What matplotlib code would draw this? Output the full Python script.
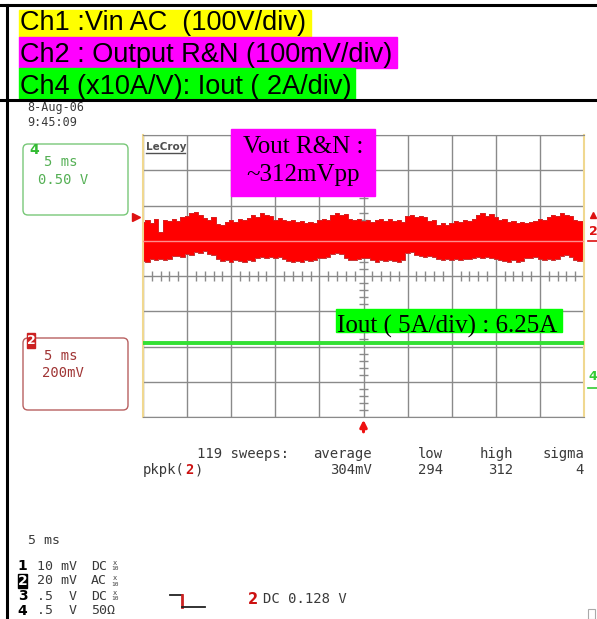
import numpy as np
import matplotlib.pyplot as plt
from matplotlib.patches import Rectangle, FancyBboxPatch

# --- trace data, screen divisions (ch2 at 200mV/div on screen), time in ms (5 ms/div)
t_ms = np.arange(0, 50.01, 0.5)
ch2_upper = [1.52, 1.58, 1.50, 1.63, 1.25, 1.60, 1.55, 1.62, 1.57, 1.66,
             1.70, 1.78, 1.82, 1.74, 1.64, 1.60, 1.66, 1.48, 1.45, 1.52,
             1.58, 1.54, 1.62, 1.58, 1.64, 1.72, 1.68, 1.80, 1.74, 1.70,
             1.60, 1.64, 1.58, 1.55, 1.58, 1.52, 1.56, 1.50, 1.53, 1.49,
             1.60, 1.63, 1.58, 1.74, 1.79, 1.72, 1.76, 1.62, 1.58, 1.63,
             1.55, 1.58, 1.54, 1.60, 1.62, 1.57, 1.63, 1.55, 1.58, 1.54,
             1.70, 1.73, 1.68, 1.71, 1.66, 1.55, 1.58, 1.46, 1.49, 1.45,
             1.50, 1.57, 1.54, 1.58, 1.55, 1.62, 1.72, 1.79, 1.70, 1.76,
             1.66, 1.60, 1.63, 1.52, 1.55, 1.50, 1.54, 1.51, 1.53, 1.56,
             1.62, 1.59, 1.68, 1.72, 1.69, 1.80, 1.72, 1.70, 1.58, 1.55,
             1.57]
ch2_lower = [0.43, 0.41, 0.47, 0.45, 0.48, 0.46, 0.49, 0.56, 0.58, 0.55,
             0.62, 0.60, 0.68, 0.64, 0.70, 0.63, 0.60, 0.47, 0.42, 0.45,
             0.40, 0.46, 0.43, 0.41, 0.45, 0.42, 0.50, 0.54, 0.51, 0.53,
             0.50, 0.54, 0.49, 0.42, 0.39, 0.43, 0.40, 0.44, 0.42, 0.45,
             0.52, 0.50, 0.55, 0.63, 0.66, 0.61, 0.52, 0.46, 0.44, 0.48,
             0.52, 0.50, 0.44, 0.41, 0.44, 0.42, 0.45, 0.43, 0.41, 0.44,
             0.64, 0.67, 0.60, 0.57, 0.55, 0.58, 0.54, 0.47, 0.45, 0.49,
             0.46, 0.48, 0.45, 0.49, 0.47, 0.50, 0.53, 0.51, 0.54, 0.50,
             0.47, 0.46, 0.43, 0.41, 0.44, 0.40, 0.43, 0.52, 0.50, 0.54,
             0.47, 0.45, 0.48, 0.46, 0.49, 0.57, 0.59, 0.55, 0.44, 0.42,
             0.45]
ch4_level = -1.9  # iout trace, divisions

header_lines = ["Ch1 :Vin AC  (100V/div)", "Ch2 : Output R&N (100mV/div)",
                "Ch4 (x10A/V): Iout ( 2A/div)"]
header_colors = ["#ffff00", "#ff00ff", "#00ff00"]

meas_heads = ["average", "low", "high", "sigma"]
meas_vals = ["304mV", "294", "312", "4"]

ch_rows = [("1", "10 mV", "DC"), ("2", "20 mV", "AC"), ("3", ".5  V", "DC"), ("4", ".5  V", "50\u03a9")]

mono = "DejaVu Sans Mono"
scope_gray = "#3a3a3a"

fig = plt.figure(figsize=(5.97, 6.19), dpi=100)

# scope graticule
ax = fig.add_axes([143 / 597, 1 - 417 / 619, 441 / 597, 282 / 619])
ax.set_xlim(0, 50)
ax.set_ylim(-4, 4)
ax.set_xticks(np.arange(0, 51, 5))
ax.set_yticks(np.arange(-4, 5, 1))
ax.tick_params(length=0, labelbottom=False, labelleft=False)
ax.grid(True, color="#8a8a8a", lw=1.0, zorder=0)
ax.set_axisbelow(True)
for s in ["top", "bottom"]:
    ax.spines[s].set_color("#8a8a8a")
for s in ["left", "right"]:
    ax.spines[s].set_color("#f0d890")
    ax.spines[s].set_linewidth(1.5)

# minor ticks on the centre cross
xt = np.arange(1, 50, 1)
xt = xt[xt % 5 != 0]
ax.vlines(xt, -0.13, 0.13, color="#8a8a8a", lw=1, zorder=1)
yt = np.arange(-3.8, 4, 0.2)
yt = yt[np.abs(yt - np.round(yt)) > 0.05]
ax.hlines(yt, 24.45, 25.55, color="#8a8a8a", lw=1, zorder=1)

ax.fill_between(t_ms, ch2_lower, ch2_upper, step="mid", color="#ff0000", lw=0, zorder=2)
ax.step(t_ms, ch2_upper, where="mid", color="#d82020", lw=0.7, zorder=2)
ax.step(t_ms, ch2_lower, where="mid", color="#c83030", lw=0.7, zorder=2)
ax.axhline(1, color="#ff8c8c", lw=1, zorder=3)

ax.plot([0, 50], [ch4_level, ch4_level], color="#33e033", lw=2.8, zorder=3)

# markers round the graticule
ax.plot([-0.75], [1.68], marker=">", color="#dd1111", ms=6, clip_on=False)
ax.text(50.55, 1.25, "2", color="#dd1111", fontsize=9, fontweight="bold",
        ha="left", va="center", clip_on=False)
ax.plot([51.0], [1.72], marker="^", color="#dd1111", ms=4, clip_on=False)
ax.plot([50.5, 51.5], [0.98, 0.98], color="#dd1111", lw=1.2, clip_on=False)
ax.text(50.55, -2.85, "4", color="#33cc33", fontsize=9, fontweight="bold",
        ha="left", va="center", clip_on=False)
ax.plot([50.5, 51.5], [-3.17, -3.17], color="#33cc33", lw=1.2, clip_on=False)
ax.annotate("", xy=(25, -4.0), xytext=(25, -4.5),
            arrowprops=dict(arrowstyle="-|>", color="#ee1111", lw=2.2, mutation_scale=10),
            annotation_clip=False)

# overlay in pixel coordinates for all the labels
ov = fig.add_axes([0, 0, 1, 1])
ov.set_xlim(0, 597)
ov.set_ylim(619, 0)
ov.axis("off")
ov.patch.set_alpha(0)
ov.set_zorder(3)

# header table
widths = [292, 378, 336]
tops = [10, 37, 68]
heights = [27, 31, 32]
baselines = [30, 62.5, 93.5]
for txt, col, w, tp, h, bl in zip(header_lines, header_colors, widths, tops, heights, baselines):
    ov.add_patch(Rectangle((19, tp), w, h, color=col, zorder=2))
    ov.text(20, bl, txt, family="Liberation Sans", fontsize=19.5, va="baseline", zorder=3)
ov.plot([0, 597], [5, 5], color="black", lw=2.2, zorder=4)
ov.plot([0, 597], [100, 100], color="black", lw=2.2, zorder=4)
ov.plot([6.5, 6.5], [5, 619], color="black", lw=2.2, zorder=4)

ov.text(27, 107, "8-Aug-06", family=mono, fontsize=8.5, color=scope_gray, va="center")
ov.text(27, 122, "9:45:09", family=mono, fontsize=8.5, color=scope_gray, va="center")

# channel boxes
ov.add_patch(FancyBboxPatch((23, 144), 105, 71, boxstyle="round,pad=0,rounding_size=5",
                            fc="none", ec="#78c878", lw=1))
ov.text(29, 150, "4", color="#33bb33", fontsize=10, fontweight="bold", va="center")
ov.text(61, 162, "5 ms", family=mono, fontsize=10, color="#55b055", ha="center", va="center")
ov.text(63, 180, "0.50 V", family=mono, fontsize=10, color="#55b055", ha="center", va="center")

ov.add_patch(FancyBboxPatch((23, 338), 105, 72, boxstyle="round,pad=0,rounding_size=5",
                            fc="none", ec="#b86060", lw=1))
ov.add_patch(Rectangle((27, 333), 8, 15, color="#cc2222"))
ov.text(31, 341, "2", color="white", fontsize=9, fontweight="bold", ha="center", va="center")
ov.text(61, 356, "5 ms", family=mono, fontsize=10, color="#a03535", ha="center", va="center")
ov.text(63, 373, "200mV", family=mono, fontsize=10, color="#a03535", ha="center", va="center")

# LeCroy logo
ov.text(146, 147, "LeCroy", fontsize=7.5, fontweight="bold", color="#505050", va="center",
        family="DejaVu Sans Condensed")
ov.plot([146, 185], [153, 153], color="#505050", lw=1)

# annotation boxes
ov.add_patch(Rectangle((231, 129), 144, 67, color="#ff00ff"))
ov.text(303, 153, "Vout R&N :", family="Liberation Serif", fontsize=18, ha="center", va="baseline")
ov.text(303, 181, "~312mVpp", family="Liberation Serif", fontsize=18, ha="center", va="baseline")

box = Rectangle((336, 309), 226, 23, color="#00ff00")
ov.add_patch(box)
lab = ov.text(337, 333, "Iout ( 5A/div) : 6.25A", family="Liberation Serif", fontsize=18,
              va="baseline")
lab.set_clip_path(box)

# measurement rows
ov.text(197, 454, "119 sweeps:", family=mono, fontsize=10, color=scope_gray, va="center")
for head, xr in zip(meas_heads, [372, 443, 513, 584]):
    ov.text(xr, 454, head, family=mono, fontsize=10, color=scope_gray, ha="right", va="center")
ov.text(143, 470, "pkpk(", family=mono, fontsize=10, color=scope_gray, va="center")
ov.text(185, 470, "2", family=mono, fontsize=10, color="#cc1111", fontweight="bold", va="center")
ov.text(195, 470, ")", family=mono, fontsize=10, color=scope_gray, va="center")
for val, xr in zip(meas_vals, [372, 443, 513, 584]):
    ov.text(xr, 470, val, family=mono, fontsize=10, color=scope_gray, ha="right", va="center")

# bottom channel settings
ov.text(28, 540, "5 ms", family=mono, fontsize=9.5, color=scope_gray, va="center")
for i, (num, scale, cpl) in enumerate(ch_rows):
    yy = 566 + 15 * i
    if num == "2":
        ov.add_patch(Rectangle((18, yy - 7), 9, 14, color="black"))
        ov.text(22.5, yy, num, fontsize=10, fontweight="bold", color="white", ha="center", va="center")
    else:
        ov.text(22.5, yy, num, fontsize=10, fontweight="bold", color="black", ha="center", va="center")
    ov.text(37, yy, scale, family=mono, fontsize=9.5, color=scope_gray, va="center")
    ov.text(91, yy, cpl, family=mono, fontsize=9.5, color=scope_gray, va="center")
    if i < 3:
        ov.text(115, yy - 3, "x", family=mono, fontsize=5, color=scope_gray, ha="center", va="center")
        ov.text(115, yy + 3, "10", family=mono, fontsize=4.5, color=scope_gray, ha="center", va="center")

ov.plot([170, 182], [595, 595], color="#222222", lw=1.3)
ov.plot([182, 182], [595, 607], color="#cc2222", lw=2)
ov.plot([182, 205], [607, 607], color="#222222", lw=1.3)
ov.text(248, 599, "2", fontsize=10.5, fontweight="bold", color="#cc1111", va="center")
ov.text(263, 599, "DC 0.128 V", family=mono, fontsize=10, color=scope_gray, va="center")
ov.add_patch(Rectangle((588, 609), 7, 10, fc="none", ec="#aaaaaa", lw=0.8))

fig.savefig("out.png", dpi=100)
